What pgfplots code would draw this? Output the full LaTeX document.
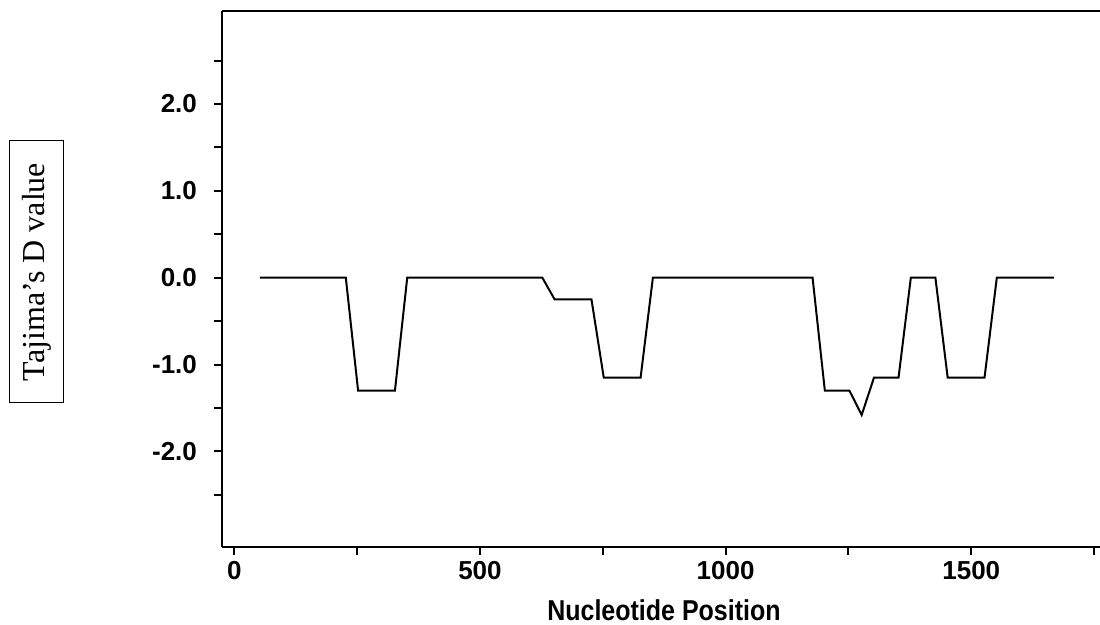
\documentclass[border=0pt]{standalone}
\usepackage{fontspec}
\setmainfont{Liberation Serif}
\setsansfont{Liberation Sans}
\usepackage{graphicx}
\usepackage{pgfplots}
\pgfplotsset{compat=1.18}
\begin{document}
\begin{tikzpicture}
\useasboundingbox (-111pt,-39pt) rectangle (439pt,273.5pt);
\begin{axis}[
  at={(0,0)}, anchor=south west,
  scale only axis,
  width=439pt, height=268pt,
  xmin=-25, xmax=1762,
  ymin=-3.1, ymax=3.07,
  axis lines*=left,
  axis line style={-, line width=1pt, black},
  tick align=outside,
  major tick length=4pt,
  minor tick length=4pt,
  every tick/.style={black, line width=1pt},
  xtick={0,500,1000,1500},
  xticklabels={0,500,1000,1500},
  minor xtick={250,750,1250,1750},
  ytick={-2,-1,0,1,2},
  yticklabels={-2.0,-1.0,0.0,1.0,2.0},
  minor ytick={-2.5,-1.5,-0.5,0.5,1.5,2.5},
  ticklabel style={font=\fontsize{13}{15}\selectfont\sffamily\bfseries},
  xticklabel style={yshift=0.5pt},
  yticklabel style={xshift=-5pt},
]
\addplot[black, line width=1pt] coordinates {
(52,0) (227,0) (252,-1.30) (327,-1.30) (352,0) (627,0) (652,-0.25) (727,-0.25)
(752,-1.15) (827,-1.15) (852,0) (1177,0) (1202,-1.30) (1252,-1.30) (1277,-1.58)
(1302,-1.15) (1352,-1.15) (1377,0) (1427,0) (1452,-1.15) (1527,-1.15) (1552,0) (1668,0)
};
\draw[line width=1pt, black] (rel axis cs:0,1) -- (rel axis cs:1,1);
\end{axis}
\node[anchor=base, inner sep=0pt, font=\fontsize{12.5}{14}\selectfont\sffamily\bfseries] at (221pt,-36.8pt) {\scalebox{1}[1.15]{Nucleotide Position}};
\node[draw, line width=0.5pt, rotate=90, minimum width=131pt, minimum height=27pt, inner sep=0pt, font=\fontsize{16}{18}\selectfont\rmfamily] at (-92.5pt,137.5pt) {Tajima’s D value};
\end{tikzpicture}
\end{document}
